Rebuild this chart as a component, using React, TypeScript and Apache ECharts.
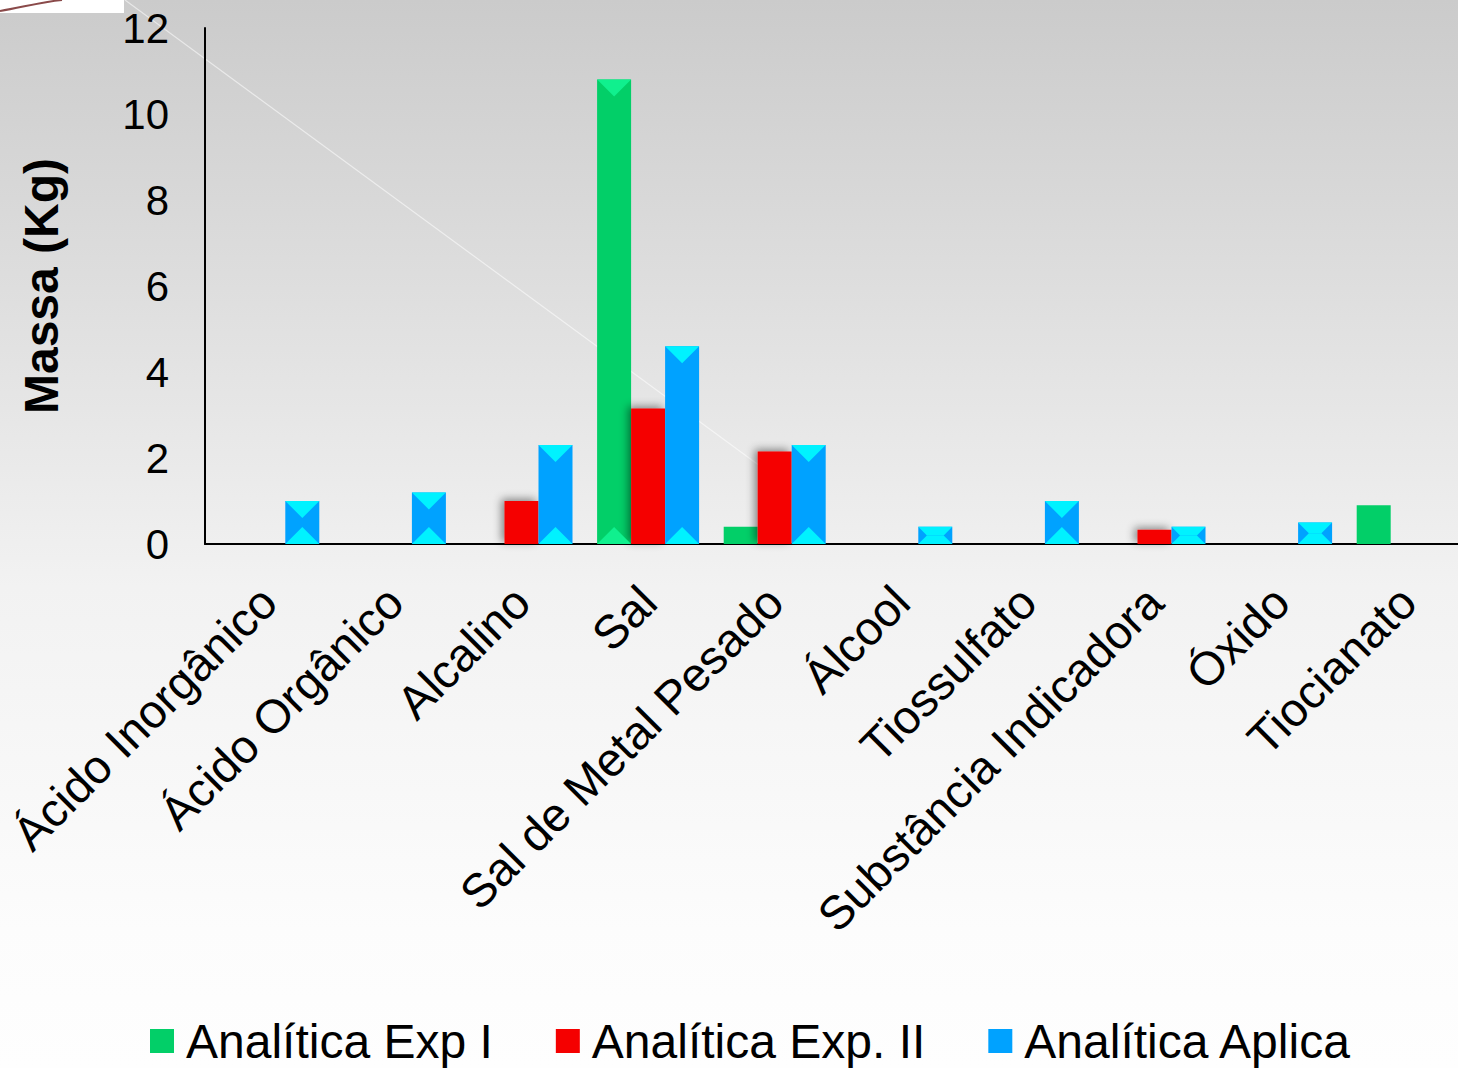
import React, { useEffect, useRef } from "react";
import * as echarts from "echarts";

const categories = [
  "Ácido Inorgânico",
  "Ácido Orgânico",
  "Alcalino",
  "Sal",
  "Sal de Metal Pesado",
  "Álcool",
  "Tiossulfato",
  "Substância Indicadora",
  "Óxido",
  "Tiocianato",
];
const seriesNames = ["Analítica Exp I", "Analítica Exp. II", "Analítica Aplica"];
const expI = [0, 0, 0, 10.8, 0.4, 0, 0, 0, 0, 0.9];
const expII = [0, 0, 1.0, 3.15, 2.15, 0, 0, 0.33, 0, 0];
const aplica = [1.0, 1.2, 2.3, 4.6, 2.3, 0.4, 1.0, 0.4, 0.5, 0];
const yTicks = { min: 0, max: 12, interval: 2 };

const BAR_W = 34;
const FONT = "'Liberation Sans', Arial, sans-serif";

function bevelItem(offset: number, faceColor: string, minHeight: number) {
  return (params: any, api: any) => {
    const idx = api.value(0);
    const val = api.value(1);
    if (!val) return { type: "group", children: [] };
    const top = api.coord([idx, val]);
    const base = api.coord([idx, 0]);
    const xl = top[0] + offset - BAR_W / 2;
    const xr = xl + BAR_W;
    const yt = top[1];
    const yb = base[1];
    const h = yb - yt;
    if (h < minHeight) return { type: "group", children: [] };
    const d = Math.min(BAR_W / 2, h / 2);
    return {
      type: "group",
      children: [
        {
          type: "polygon",
          shape: { points: [[xl, yt], [xr, yt], [xr - d, yt + d], [xl + d, yt + d]] },
          style: { fill: faceColor },
          silent: true,
        },
        {
          type: "polygon",
          shape: { points: [[xl, yb], [xr, yb], [xr - d, yb - d], [xl + d, yb - d]] },
          style: { fill: faceColor },
          silent: true,
        },
      ],
    };
  };
}

export default function App() {
  const ref = useRef<HTMLDivElement>(null);
  useEffect(() => {
    if (!ref.current) return;
    const chart = echarts.init(ref.current, null, { renderer: "svg" });
    const toPairs = (arr: number[]) => arr.map((v, i) => [i, v]);
    chart.setOption({
      animation: false,
      backgroundColor: {
        type: "linear",
        x: 0,
        y: 0,
        x2: 0,
        y2: 1,
        colorStops: [
          { offset: 0, color: "#cbcbcb" },
          { offset: 0.27, color: "#dedede" },
          { offset: 0.55, color: "#f2f2f2" },
          { offset: 0.87, color: "#fcfcfc" },
          { offset: 1, color: "#fefefe" },
        ],
      },
      textStyle: { fontFamily: FONT },
      grid: {
        left: 205,
        top: 28,
        bottom: 524,
        right: -13,
        containLabel: false,
        outerBoundsMode: "none",
      },
      legend: {
        bottom: -2,
        left: 145,
        itemWidth: 24,
        itemHeight: 24,
        itemGap: 63,
        icon: "rect",
        data: seriesNames,
        textStyle: { fontSize: 48, color: "#000", fontFamily: FONT, padding: [0, 0, 0, 7] },
      },
      xAxis: {
        type: "category",
        data: categories,
        axisLine: { lineStyle: { color: "#000", width: 2 } },
        axisTick: { show: false },
        axisLabel: {
          rotate: 45,
          interval: 0,
          margin: 50,
          fontSize: 47,
          color: "#000",
          fontFamily: FONT,
        },
      },
      yAxis: {
        type: "value",
        min: yTicks.min,
        max: yTicks.max,
        interval: yTicks.interval,
        name: "Massa (Kg)",
        nameLocation: "middle",
        nameRotate: 90,
        nameGap: 140,
        nameTextStyle: { fontSize: 48, fontWeight: "bold", color: "#000", fontFamily: FONT },
        axisLine: { show: true, lineStyle: { color: "#000", width: 2 } },
        axisTick: { show: false },
        splitLine: { show: false },
        axisLabel: { fontSize: 42, color: "#000", margin: 36, fontFamily: FONT },
      },
      graphic: [
        { type: "rect", shape: { x: 0, y: 0, width: 124, height: 13 }, style: { fill: "#ffffff" }, silent: true },
        {
          type: "bezierCurve",
          shape: { x1: 0, y1: 11, x2: 62, y2: 0, cpx1: 20, cpy1: 8, cpx2: 40, cpy2: 2 },
          style: { stroke: "#8a4a4a", lineWidth: 2, fill: "none" },
          silent: true,
        },
        {
          type: "line",
          shape: { x1: 125, y1: 0, x2: 760, y2: 466 },
          style: { stroke: "rgba(255,255,255,0.55)", lineWidth: 1.2 },
          silent: true,
          z: 0,
        },
      ],
      series: [
        {
          name: seriesNames[0],
          type: "bar",
          data: expI,
          barWidth: BAR_W,
          barGap: "0%",
          itemStyle: { color: "#02cf68" },
        },
        {
          name: seriesNames[1],
          type: "bar",
          data: expII,
          barWidth: BAR_W,
          barGap: "0%",
          itemStyle: {
            color: "#f50000",
            shadowColor: "rgba(0,0,0,0.45)",
            shadowBlur: 8,
            shadowOffsetX: -3,
            shadowOffsetY: -2,
          },
        },
        {
          name: seriesNames[2],
          type: "bar",
          data: aplica,
          barWidth: BAR_W,
          barGap: "0%",
          itemStyle: { color: "#00a2ff" },
        },
        {
          type: "custom",
          data: toPairs(expI),
          renderItem: bevelItem(-BAR_W, "#10f08e", 100),
          silent: true,
          z: 3,
        },
        {
          type: "custom",
          data: toPairs(aplica),
          renderItem: bevelItem(BAR_W, "#00f2ff", 0),
          silent: true,
          z: 3,
        },
      ],
    });
    return () => chart.dispose();
  }, []);
  return (
    <div
      ref={ref}
      style={{ position: "fixed", left: 0, top: 0, width: 1458, height: 1068 }}
    />
  );
}
